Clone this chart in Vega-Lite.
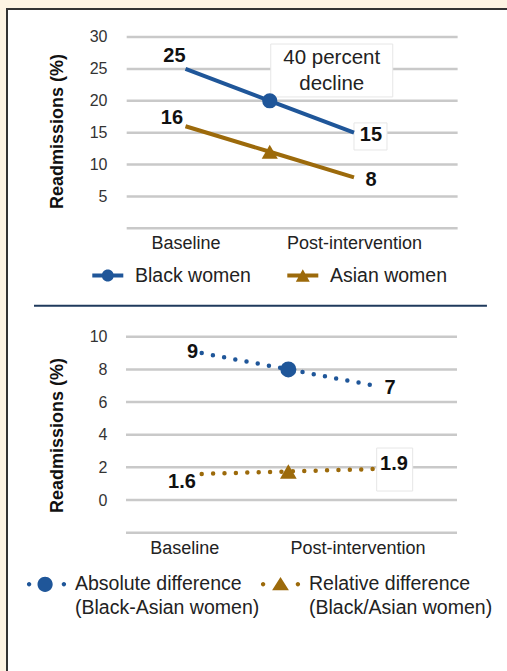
{
  "$schema": "https://vega.github.io/schema/vega-lite/v6.json",
  "width": 500,
  "height": 662,
  "autosize": {"type": "none"},
  "padding": {"left": 7, "top": 9, "right": 0, "bottom": 0},
  "background": "#FDF4E3",
  "config": {
    "font": "Liberation Sans",
    "view": {"fill": "white", "stroke": "#333333", "strokeWidth": 2, "strokeDash": [500, 1162, 662]},
    "axis": {"grid": false, "domain": false, "ticks": false, "tickSize": 0},
    "style": {"guide-label": {"lineHeight": 23.3}}
  },
  "datasets": {
    "top": [
      {"series": "Black women", "phase": 0, "value": 25},
      {"series": "Black women", "phase": 0.5, "value": 20},
      {"series": "Black women", "phase": 1, "value": 15},
      {"series": "Asian women", "phase": 0, "value": 16},
      {"series": "Asian women", "phase": 0.5, "value": 12},
      {"series": "Asian women", "phase": 1, "value": 8}
    ],
    "topGrid": [{"value": 0}, {"value": 5}, {"value": 10}, {"value": 15}, {"value": 20}, {"value": 25}, {"value": 30}],
    "topNote": [{"phase": 0.868, "value": 24.75, "note": "40 percent\ndecline"}],
    "bottom": [
      {"series": "Absolute difference (Black-Asian women)", "phase": 0, "value": 9},
      {"series": "Absolute difference (Black-Asian women)", "phase": 0.5, "value": 8},
      {"series": "Absolute difference (Black-Asian women)", "phase": 1, "value": 7},
      {"series": "Relative difference (Black/Asian women)", "phase": 0, "value": 1.6},
      {"series": "Relative difference (Black/Asian women)", "phase": 0.5, "value": 1.75},
      {"series": "Relative difference (Black/Asian women)", "phase": 1, "value": 1.9}
    ],
    "bottomGrid": [{"value": -2}, {"value": 0}, {"value": 2}, {"value": 4}, {"value": 6}, {"value": 8}, {"value": 10}],
    "one": [{}]
  },
  "layer": [
    {
      "layer": [
        {
          "data": {"name": "topGrid"},
          "mark": {"type": "rule", "color": "#c9c9c9", "strokeWidth": 2.5},
          "encoding": {
            "x": {"datum": -0.349, "type": "quantitative", "scale": {"domain": [-1.0593, 1.908], "nice": false, "zero": false},
              "axis": {"orient": "bottom", "values": [0, 1], "labelExpr": "datum.value == 0 ? 'Baseline' : 'Post-intervention'", "offset": -427.7, "title": null, "labelPadding": 0, "labelBaseline": "middle", "labelFontSize": 18, "labelColor": "#222222", "labelFlush": false}},
            "x2": {"datum": 1.615},
            "y": {"field": "value", "type": "quantitative", "scale": {"domain": [-69.42, 34.39], "nice": false, "zero": false},
              "axis": {"orient": "left", "values": [5, 10, 15, 20, 25, 30], "offset": -100, "labelPadding": 0, "labelFontSize": 16, "labelColor": "#333333", "title": "Readmissions (%)", "titleX": -50, "titleY": 122, "titleAngle": -90, "titleBaseline": "middle", "titleAlign": "center", "titleFontSize": 18, "titleFontWeight": "bold", "titleColor": "#111111"}}
          }
        },
        {
          "data": {"name": "one"},
          "mark": {"type": "rule", "color": "#1f3a5c", "strokeWidth": 2},
          "encoding": {
            "x": {"datum": -0.899, "type": "quantitative", "scale": {"domain": [-1.0593, 1.908], "nice": false, "zero": false},
              "axis": {"orient": "bottom", "values": [0, 1], "labelExpr": "datum.value == 0 ? 'Baseline' : 'Post-intervention'", "offset": -427.7, "title": null, "labelPadding": 0, "labelBaseline": "middle", "labelFontSize": 18, "labelColor": "#222222", "labelFlush": false}},
            "x2": {"datum": 1.789},
            "y": {"datum": -12.14, "type": "quantitative", "scale": {"domain": [-69.42, 34.39], "nice": false, "zero": false},
              "axis": {"orient": "left", "values": [5, 10, 15, 20, 25, 30], "offset": -100, "labelPadding": 0, "labelFontSize": 16, "labelColor": "#333333", "title": "Readmissions (%)", "titleX": -50, "titleY": 122, "titleAngle": -90, "titleBaseline": "middle", "titleAlign": "center", "titleFontSize": 18, "titleFontWeight": "bold", "titleColor": "#111111"}}
          }
        },
        {
          "encoding": {
            "x": {"field": "phase", "type": "quantitative", "scale": {"domain": [-1.0593, 1.908], "nice": false, "zero": false},
              "axis": {"orient": "bottom", "values": [0, 1], "labelExpr": "datum.value == 0 ? 'Baseline' : 'Post-intervention'", "offset": -427.7, "title": null, "labelPadding": 0, "labelBaseline": "middle", "labelFontSize": 18, "labelColor": "#222222", "labelFlush": false}},
            "y": {"field": "value", "type": "quantitative", "scale": {"domain": [-69.42, 34.39], "nice": false, "zero": false},
              "axis": {"orient": "left", "values": [5, 10, 15, 20, 25, 30], "offset": -100, "labelPadding": 0, "labelFontSize": 16, "labelColor": "#333333", "title": "Readmissions (%)", "titleX": -50, "titleY": 122, "titleAngle": -90, "titleBaseline": "middle", "titleAlign": "center", "titleFontSize": 18, "titleFontWeight": "bold", "titleColor": "#111111"}}
          },
          "layer": [
            {
              "data": {"name": "topNote"},
              "mark": {"type": "point", "filled": true, "color": "white", "stroke": "#e6e6e6", "strokeWidth": 1, "opacity": 1, "size": 14884, "shape": "M-1,-0.434H1V0.434H-1Z"}
            },
            {
              "data": {"name": "topNote"},
              "mark": {"type": "text", "fontSize": 20.5, "color": "#222222", "align": "center", "baseline": "middle", "lineBreak": "\n", "lineHeight": 25.7, "dy": -12.3},
              "encoding": {"text": {"field": "note", "type": "nominal"}}
            },
            {
              "data": {"name": "top"},
              "transform": [{"filter": "datum.series == 'Black women' && datum.phase == 1"}],
              "mark": {"type": "point", "filled": true, "color": "white", "stroke": "#e6e6e6", "strokeWidth": 1, "opacity": 1, "size": 1089, "shape": "M0,-0.59H2V1.05H0Z"}
            },
            {
              "data": {"name": "top"},
              "transform": [{"filter": "datum.series == 'Black women'"}],
              "mark": {"type": "line", "strokeWidth": 4, "color": "#1F5699"}
            },
            {
              "data": {"name": "top"},
              "transform": [{"filter": "datum.series == 'Asian women'"}],
              "mark": {"type": "line", "strokeWidth": 4, "color": "#9C6A0B"}
            },
            {
              "data": {"name": "top"},
              "transform": [{"filter": "datum.series == 'Black women' && datum.phase == 0.5"}],
              "mark": {"type": "point", "shape": "circle", "filled": true, "size": 230, "color": "#1F5699", "opacity": 1}
            },
            {
              "data": {"name": "top"},
              "transform": [{"filter": "datum.series == 'Asian women' && datum.phase == 0.5"}],
              "mark": {"type": "point", "shape": "triangle-up", "filled": true, "size": 260, "color": "#9C6A0B", "opacity": 1}
            },
            {
              "data": {"name": "top"},
              "transform": [{"filter": "datum.series == 'Black women' && datum.phase == 0"}],
              "mark": {"type": "text", "fontSize": 20, "fontWeight": "bold", "color": "#111111", "align": "center", "baseline": "middle", "dx": -11, "dy": -13},
              "encoding": {"text": {"field": "value", "type": "nominal"}}
            },
            {
              "data": {"name": "top"},
              "transform": [{"filter": "datum.series == 'Asian women' && datum.phase == 0"}],
              "mark": {"type": "text", "fontSize": 20, "fontWeight": "bold", "color": "#111111", "align": "center", "baseline": "middle", "dx": -13.5, "dy": -8},
              "encoding": {"text": {"field": "value", "type": "nominal"}}
            },
            {
              "data": {"name": "top"},
              "transform": [{"filter": "datum.phase == 1"}],
              "mark": {"type": "text", "fontSize": 20, "fontWeight": "bold", "color": "#111111", "align": "center", "baseline": "middle", "dx": 17, "dy": 2.5},
              "encoding": {"text": {"field": "value", "type": "nominal"}}
            },
            {
              "data": {"name": "top"},
              "transform": [{"filter": "datum.phase == 0.5"}],
              "mark": {"type": "point", "filled": true, "opacity": 0},
              "encoding": {
                "color": {"field": "series", "type": "nominal", "scale": {"domain": ["Black women", "Asian women"], "range": ["#1F5699", "#9C6A0B"]},
                  "legend": {"title": null, "orient": "none", "legendX": 85.3, "legendY": 251, "direction": "horizontal", "symbolSize": 961, "symbolStrokeWidth": 0, "symbolOpacity": 1, "labelFontSize": 19.5, "labelColor": "#222222", "labelOffset": 11.7, "columnPadding": 36, "padding": 0, "symbolOffset": 0, "labelLimit": 400}},
                "shape": {"field": "series", "type": "nominal", "scale": {"domain": ["Black women", "Asian women"], "range": ["M-1,-0.13H1V0.13H-1Z M0.39,0A0.39,0.39 0 1,1 -0.39,0A0.39,0.39 0 1,1 0.39,0Z", "M-1,-0.13H1V0.13H-1Z M0,-0.4L0.45,0.4L-0.45,0.4Z"]},
                  "legend": {"title": null, "orient": "none", "legendX": 85.3, "legendY": 251, "direction": "horizontal", "symbolSize": 961, "symbolStrokeWidth": 0, "symbolOpacity": 1, "labelFontSize": 19.5, "labelColor": "#222222", "labelOffset": 11.7, "columnPadding": 36, "padding": 0, "symbolOffset": 0, "labelLimit": 400}}
              }
            }
          ]
        }
      ]
    },
    {
      "layer": [
        {
          "data": {"name": "bottomGrid"},
          "mark": {"type": "rule", "color": "#c9c9c9", "strokeWidth": 2.5},
          "encoding": {
            "x": {"datum": -0.4368, "type": "quantitative", "scale": {"domain": [-1.1235, 1.7617], "nice": false, "zero": false},
              "axis": {"orient": "bottom", "values": [0, 1], "labelExpr": "datum.value == 0 ? 'Baseline' : 'Post-intervention'", "offset": -122.7, "labelOffset": -17.5, "title": null, "labelPadding": 0, "labelBaseline": "middle", "labelFontSize": 18, "labelColor": "#222222", "labelFlush": false}},
            "x2": {"datum": 1.4732},
            "y": {"field": "value", "type": "quantitative", "scale": {"domain": [-10.47, 30.07], "nice": false, "zero": false},
              "axis": {"orient": "left", "values": [0, 2, 4, 6, 8, 10], "offset": -100, "labelPadding": 0, "labelFontSize": 16, "labelColor": "#333333", "title": "Readmissions (%)", "titleX": -50, "titleY": 426, "titleAngle": -90, "titleBaseline": "middle", "titleAlign": "center", "titleFontSize": 18, "titleFontWeight": "bold", "titleColor": "#111111"}}
          }
        },
        {
          "data": {"name": "bottom"},
          "encoding": {
            "x": {"field": "phase", "type": "quantitative", "scale": {"domain": [-1.1235, 1.7617], "nice": false, "zero": false},
              "axis": {"orient": "bottom", "values": [0, 1], "labelExpr": "datum.value == 0 ? 'Baseline' : 'Post-intervention'", "offset": -122.7, "labelOffset": -17.5, "title": null, "labelPadding": 0, "labelBaseline": "middle", "labelFontSize": 18, "labelColor": "#222222", "labelFlush": false}},
            "y": {"field": "value", "type": "quantitative", "scale": {"domain": [-10.47, 30.07], "nice": false, "zero": false},
              "axis": {"orient": "left", "values": [0, 2, 4, 6, 8, 10], "offset": -100, "labelPadding": 0, "labelFontSize": 16, "labelColor": "#333333", "title": "Readmissions (%)", "titleX": -50, "titleY": 426, "titleAngle": -90, "titleBaseline": "middle", "titleAlign": "center", "titleFontSize": 18, "titleFontWeight": "bold", "titleColor": "#111111"}}
          },
          "layer": [
            {
              "transform": [{"filter": "datum.series == 'Relative difference (Black/Asian women)' && datum.phase == 1"}],
              "mark": {"type": "point", "filled": true, "color": "white", "stroke": "#e6e6e6", "strokeWidth": 1, "opacity": 1, "size": 1600, "shape": "M0.085,-1.05H1.885V1.1H0.085Z"}
            },
            {
              "transform": [{"filter": "datum.series == 'Absolute difference (Black-Asian women)'"}],
              "mark": {"type": "line", "strokeWidth": 4.5, "strokeDash": [0, 11.4], "strokeCap": "round", "color": "#1F5699"}
            },
            {
              "transform": [{"filter": "datum.series == 'Relative difference (Black/Asian women)'"}],
              "mark": {"type": "line", "strokeWidth": 4.5, "strokeDash": [0, 11.4], "strokeCap": "round", "color": "#9C6A0B"}
            },
            {
              "transform": [{"filter": "datum.series == 'Absolute difference (Black-Asian women)' && datum.phase == 0.5"}],
              "mark": {"type": "point", "shape": "circle", "filled": true, "size": 256, "color": "#1F5699", "opacity": 1}
            },
            {
              "transform": [{"filter": "datum.series == 'Relative difference (Black/Asian women)' && datum.phase == 0.5"}],
              "mark": {"type": "point", "shape": "triangle-up", "filled": true, "size": 280, "color": "#9C6A0B", "opacity": 1}
            },
            {
              "transform": [{"filter": "datum.series == 'Absolute difference (Black-Asian women)' && datum.phase == 0"}],
              "mark": {"type": "text", "fontSize": 20, "fontWeight": "bold", "color": "#111111", "align": "center", "baseline": "middle", "dx": -9.2, "dy": -1.3},
              "encoding": {"text": {"field": "value", "type": "nominal"}}
            },
            {
              "transform": [{"filter": "datum.series == 'Absolute difference (Black-Asian women)' && datum.phase == 1"}],
              "mark": {"type": "text", "fontSize": 20, "fontWeight": "bold", "color": "#111111", "align": "center", "baseline": "middle", "dx": 15, "dy": 2.6},
              "encoding": {"text": {"field": "value", "type": "nominal"}}
            },
            {
              "transform": [{"filter": "datum.series == 'Relative difference (Black/Asian women)' && datum.phase == 0"}],
              "mark": {"type": "text", "fontSize": 20, "fontWeight": "bold", "color": "#111111", "align": "center", "baseline": "middle", "dx": -19.7, "dy": 7.8},
              "encoding": {"text": {"field": "value", "type": "nominal"}}
            },
            {
              "transform": [{"filter": "datum.series == 'Relative difference (Black/Asian women)' && datum.phase == 1"}],
              "mark": {"type": "text", "fontSize": 20, "fontWeight": "bold", "color": "#111111", "align": "center", "baseline": "middle", "dx": 19, "dy": -4.7},
              "encoding": {"text": {"field": "value", "type": "nominal"}}
            },
            {
              "transform": [{"filter": "datum.phase == 0.5"}],
              "mark": {"type": "point", "filled": true, "opacity": 0},
              "encoding": {
                "color": {"field": "series", "type": "nominal", "scale": {"domain": ["Absolute difference (Black-Asian women)", "Relative difference (Black/Asian women)"], "range": ["#1F5699", "#9C6A0B"]},
                  "legend": {"title": null, "orient": "none", "legendX": 19.5, "legendY": 555.2, "direction": "horizontal", "symbolSize": 1600, "symbolStrokeWidth": 0, "symbolOpacity": 1, "labelFontSize": 19.5, "labelColor": "#222222", "labelOffset": 8.5, "columnPadding": 1, "padding": 0, "symbolOffset": 0, "labelLimit": 400, "labelExpr": "[slice(datum.label, 0, indexof(datum.label, ' (')), slice(datum.label, indexof(datum.label, ' (') + 1)]"}},
                "shape": {"field": "series", "type": "nominal", "scale": {"domain": ["Absolute difference (Black-Asian women)", "Relative difference (Black/Asian women)"], "range": ["M-0.76,0A0.11,0.11 0 1,1 -0.98,0A0.11,0.11 0 1,1 -0.76,0Z M0.98,0A0.11,0.11 0 1,1 0.76,0A0.11,0.11 0 1,1 0.98,0Z M0.31,0A0.38,0.38 0 1,1 -0.45,0A0.38,0.38 0 1,1 0.31,0Z", "M-0.76,0A0.11,0.11 0 1,1 -0.98,0A0.11,0.11 0 1,1 -0.76,0Z M0.98,0A0.11,0.11 0 1,1 0.76,0A0.11,0.11 0 1,1 0.98,0Z M0,-0.36L0.42,0.3L-0.42,0.3Z"]},
                  "legend": {"title": null, "orient": "none", "legendX": 19.5, "legendY": 555.2, "direction": "horizontal", "symbolSize": 1600, "symbolStrokeWidth": 0, "symbolOpacity": 1, "labelFontSize": 19.5, "labelColor": "#222222", "labelOffset": 8.5, "columnPadding": 1, "padding": 0, "symbolOffset": 0, "labelLimit": 400, "labelExpr": "[slice(datum.label, 0, indexof(datum.label, ' (')), slice(datum.label, indexof(datum.label, ' (') + 1)]"}}
              }
            }
          ]
        }
      ]
    }
  ],
  "resolve": {
    "scale": {"x": "independent", "y": "independent", "color": "independent", "shape": "independent"},
    "axis": {"x": "independent", "y": "independent"},
    "legend": {"color": "independent", "shape": "independent"}
  }
}
